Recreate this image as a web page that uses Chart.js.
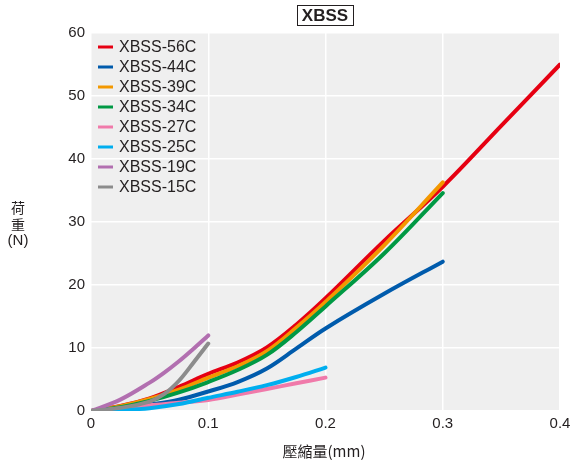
<!DOCTYPE html>
<html>
<head>
<meta charset="utf-8">
<script src="https://cdn.jsdelivr.net/npm/chart.js@4/dist/chart.umd.min.js"></script>
<style>
  html, body { margin: 0; padding: 0; background: #fff; }
  #wrap { width: 572px; height: 464px; }
</style>
</head>
<body>
<div id="wrap"><canvas id="c" width="572" height="464"></canvas></div>
<script>
// 壓縮量 (mm) 取樣點
const XS = [0, 0.025, 0.05, 0.075, 0.1, 0.125, 0.15, 0.175, 0.2, 0.25, 0.3, 0.35, 0.4];
const XS_SHORT = [0, 0.025, 0.05, 0.0625, 0.075, 0.0875, 0.1];

const SERIES = ['XBSS-56C', 'XBSS-44C', 'XBSS-39C', 'XBSS-34C', 'XBSS-27C', 'XBSS-25C', 'XBSS-19C', 'XBSS-15C'];
const COLORS = ['#e60012', '#005bac', '#f39800', '#009944', '#f07aaa', '#00aeef', '#b26fb0', '#8c8c8c'];

// 荷重 (N)
const XBSS_56C = [0, 0.8, 2.0, 3.85, 5.9, 7.7, 10.1, 13.7, 17.9, 27.0, 35.6, 45.3, 55.0];
const XBSS_44C = [0, 0.35, 1.0, 1.8, 3.1, 4.6, 6.75, 9.9, 13.1, 18.6, 23.7];
const XBSS_39C = [0, 0.75, 1.9, 3.4, 5.3, 7.1, 9.5, 13.2, 17.3, 26.3, 36.3];
const XBSS_34C = [0, 0.6, 1.6, 2.95, 4.6, 6.5, 8.9, 12.5, 16.6, 25.0, 34.6];
const XBSS_27C = [0, 0.4, 0.9, 1.3, 1.75, 2.6, 3.5, 4.4, 5.3];
const XBSS_25C = [0, 0.15, 0.45, 1.1, 2.1, 3.05, 4.1, 5.4, 6.9];
const XBSS_19C = [0, 1.8, 4.5, 6.1, 7.9, 9.9, 12.0];
const XBSS_15C = [0, 0.5, 1.5, 2.7, 4.8, 7.7, 10.7];

const VALUES = [XBSS_56C, XBSS_44C, XBSS_39C, XBSS_34C, XBSS_27C, XBSS_25C, XBSS_19C, XBSS_15C];
const X_OF = [XS, XS, XS, XS, XS, XS, XS_SHORT, XS_SHORT];

const Y_TICKS = [0, 10, 20, 30, 40, 50, 60];
const X_TICKS = [0, 0.1, 0.2, 0.3, 0.4];

const TITLE = 'XBSS';
const X_TITLE = '壓縮量(mm)';
const Y_TITLE = ['荷', '重', '(N)'];

const FONT = '"Liberation Sans", Arial, sans-serif';
const CJK = '"Noto Sans CJK TC", "Noto Sans CJK SC", sans-serif';
const INK = '#231f20';

const datasets = SERIES.map((name, i) => ({
  label: name,
  data: VALUES[i].map((v, k) => ({ x: X_OF[i][k], y: v })),
  borderColor: COLORS[i],
  backgroundColor: COLORS[i],
  borderWidth: 4,
  borderCapStyle: 'round',
  pointRadius: 0,
  fill: false,
  tension: 0.35,
  order: SERIES.length - i
}));

// fondo gris del área + título con recuadro + leyenda + títulos de ejes
const decor = {
  id: 'decor',
  beforeDraw(chart) {
    const { ctx, chartArea: a } = chart;
    ctx.save();
    ctx.fillStyle = '#efefef';
    ctx.fillRect(a.left, a.top, a.right - a.left, a.bottom - a.top);
    ctx.restore();
  },
  afterDraw(chart) {
    const { ctx } = chart;
    ctx.save();
    // título
    ctx.font = 'bold 17px ' + FONT;
    ctx.fillStyle = INK;
    ctx.textAlign = 'center';
    ctx.textBaseline = 'middle';
    ctx.fillText(TITLE, 325, 16);
    ctx.strokeStyle = INK;
    ctx.lineWidth = 1;
    ctx.strokeRect(297.5, 5.5, 56, 20);

    // leyenda
    ctx.font = '16px ' + FONT;
    ctx.textAlign = 'left';
    SERIES.forEach((name, i) => {
      const y = 47 + i * 20;
      ctx.strokeStyle = COLORS[i];
      ctx.lineWidth = 3;
      ctx.beginPath();
      ctx.moveTo(98, y);
      ctx.lineTo(113, y);
      ctx.stroke();
      ctx.fillStyle = INK;
      ctx.fillText(name, 119, y + 1);
    });

    // título eje x
    ctx.font = '15px ' + CJK;
    ctx.textAlign = 'center';
    ctx.fillText(X_TITLE, 324, 451);

    // título eje y (vertical)
    ctx.font = '14px ' + CJK;
    ctx.fillText(Y_TITLE[0], 18, 208);
    ctx.fillText(Y_TITLE[1], 18, 225);
    ctx.font = '15px ' + FONT;
    ctx.fillText(Y_TITLE[2], 18, 241);
    ctx.restore();
  }
};

new Chart(document.getElementById('c'), {
  type: 'line',
  data: { datasets },
  options: {
    responsive: false,
    animation: false,
    layout: { padding: { top: 33, right: 12, left: 0, bottom: 0 } },
    plugins: {
      legend: { display: false },
      tooltip: { enabled: false },
      title: { display: false }
    },
    scales: {
      x: {
        type: 'linear',
        min: 0,
        max: 0.4,
        afterBuildTicks: s => { s.ticks = X_TICKS.map(v => ({ value: v })); },
        afterFit: s => { s.height = 53; s.paddingLeft = 0; s.paddingRight = 0; },
        ticks: {
          color: INK,
          font: { family: FONT, size: 15 },
          padding: 4,
          callback: v => String(v)
        },
        grid: { color: '#ffffff', lineWidth: 1.5, drawTicks: false },
        border: { display: false }
      },
      y: {
        min: 0,
        max: 60,
        afterBuildTicks: s => { s.ticks = Y_TICKS.map(v => ({ value: v })); },
        afterFit: s => { s.width = 91; s.paddingTop = 0; s.paddingBottom = 0; },
        ticks: {
          color: INK,
          font: { family: FONT, size: 15 },
          padding: 6
        },
        grid: { color: '#ffffff', lineWidth: 1.5, drawTicks: false },
        border: { display: false }
      }
    }
  },
  plugins: [decor]
});
</script>
</body>
</html>
